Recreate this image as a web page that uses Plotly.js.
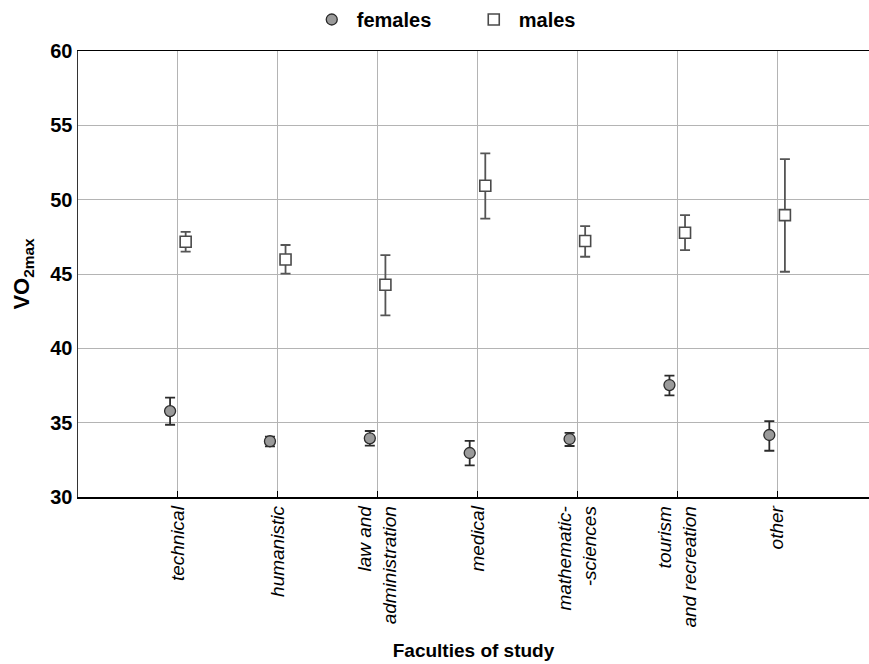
<!DOCTYPE html>
<html>
<head>
<meta charset="utf-8">
<script src="https://cdn.plot.ly/plotly-3.0.1.min.js"></script>
<style>html,body{margin:0;padding:0;background:#fff;}#chart{width:869px;height:664px;}</style>
</head>
<body>
<div id="chart"></div>
<script>
var categories = ["technical", "humanistic", "law and<br>administration", "medical", "mathematic-<br>-sciences", "tourism<br>and recreation", "other"];
var femalesMean = [35.78, 33.75, 33.95, 32.96, 33.90, 37.53, 34.17];
var femalesUpper = [36.68, 34.06, 34.44, 33.77, 34.32, 38.16, 35.11];
var femalesLower = [34.86, 33.41, 33.45, 32.13, 33.43, 36.84, 33.11];
var malesMean = [47.17, 45.98, 44.28, 50.94, 47.22, 47.77, 48.96];
var malesUpper = [47.84, 46.95, 46.27, 53.11, 48.22, 48.96, 52.73];
var malesLower = [46.50, 45.02, 42.22, 48.72, 46.16, 46.61, 45.15];

var idx = categories.map(function(_, i){ return i; });
var off = 0.078;

function diff(a, b){ return a.map(function(v, i){ return +(v - b[i]).toFixed(3); }); }

var traces = [
  {
    name: "females", type: "scatter", mode: "markers",
    x: idx.map(function(i){ return i - off; }),
    y: femalesMean,
    error_y: {type: "data", symmetric: false, array: diff(femalesUpper, femalesMean), arrayminus: diff(femalesMean, femalesLower), color: "#2b2b2b", thickness: 1.8, width: 5},
    marker: {symbol: "circle", size: 11, color: "#9a9a9a", line: {color: "#2b2b2b", width: 1.3}}
  },
  {
    name: "males", type: "scatter", mode: "markers",
    x: idx.map(function(i){ return i + off; }),
    y: malesMean,
    error_y: {type: "data", symmetric: false, array: diff(malesUpper, malesMean), arrayminus: diff(malesMean, malesLower), color: "#555555", thickness: 1.8, width: 5},
    marker: {symbol: "square", size: 11, color: "#ffffff", line: {color: "#4a4a4a", width: 1.6}}
  }
];

var layout = {
  width: 869, height: 664,
  margin: {l: 78, r: 0, t: 51, b: 167, autoexpand: false},
  paper_bgcolor: "#ffffff", plot_bgcolor: "#ffffff",
  font: {family: "Liberation Sans, Arial, sans-serif", color: "#000"},
  showlegend: true,
  legend: {orientation: "h", x: 0.353, xanchor: "left", xref: "container", y: 1.0, yanchor: "top", yref: "container", font: {size: 20, weight: "bold"}, traceorder: "normal", itemwidth: 40, entrywidth: 107, entrywidthmode: "pixels"},
  xaxis: {
    range: [-1, 6.92], tickvals: idx, ticktext: categories, tickangle: -90,
    tickfont: {size: 19, style: "italic", color: "#000"},
    showgrid: true, gridcolor: "#b4b4b4", gridwidth: 1,
    showline: true, linecolor: "#000", linewidth: 1.5, mirror: true,
    ticks: "inside", ticklen: 6, tickcolor: "#000",
    zeroline: false, automargin: false,
    title: {text: "<b>Faculties of study</b>", font: {size: 19}, standoff: 17}
  },
  yaxis: {
    range: [30, 60], dtick: 5, tick0: 30,
    tickfont: {size: 20, weight: "bold", color: "#000"},
    showgrid: true, gridcolor: "#b4b4b4", gridwidth: 1,
    showline: true, linecolor: "#333", linewidth: 1.5,
    ticks: "", zeroline: false, automargin: false,
    title: {text: "<b>VO<sub>2max</sub></b>", font: {size: 22}, standoff: 14}
  }
};

Plotly.newPlot("chart", traces, layout, {displayModeBar: false, staticPlot: true});
</script>
</body>
</html>
